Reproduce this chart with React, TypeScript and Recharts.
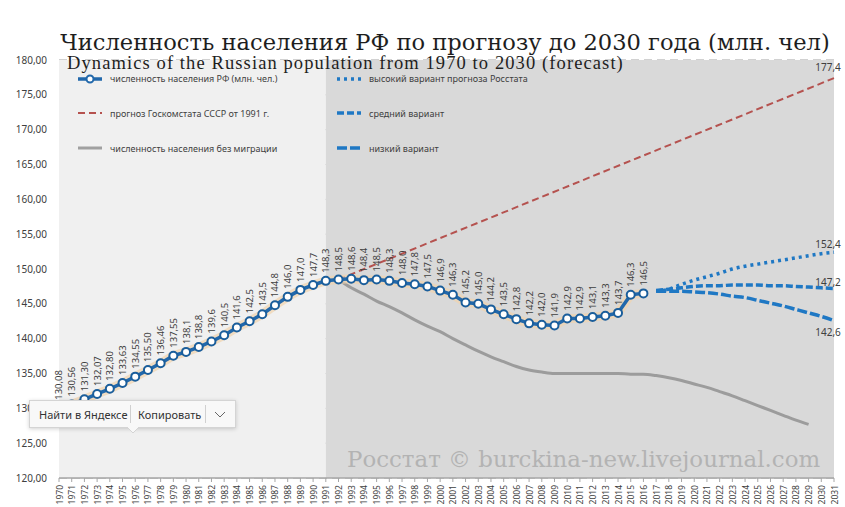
import { CartesianGrid, LabelList, Line, LineChart, ReferenceArea, XAxis, YAxis } from "recharts";

// categories 1970..2031
const years: string[] = Array.from({ length: 62 }, (_, i) => String(1970 + i));

// численность населения РФ (млн. чел.), 1970..2016
const actual = [
  130.08, 130.56, 131.3, 132.07, 132.8, 133.63, 134.55, 135.5, 136.46, 137.55,
  138.1, 138.8, 139.6, 140.5, 141.6, 142.5, 143.5, 144.8, 146.0, 147.0,
  147.7, 148.3, 148.5, 148.6, 148.4, 148.5, 148.3, 148.0, 147.8, 147.5,
  146.9, 146.3, 145.2, 145.0, 144.2, 143.5, 142.8, 142.2, 142.0, 141.9,
  142.9, 142.9, 143.1, 143.3, 143.7, 146.3, 146.5,
];

// прогноз Госкомстата СССР от 1991 г. (start / end)
const ussrYears = ["1992", "2031"];
const ussrForecast = [148.5, 177.4];

// численность населения без миграции, 1992..2030
const noMigration = [
  148.5, 147.3, 146.4, 145.4, 144.6, 143.7, 142.7, 141.8, 141.0, 140.0,
  139.1, 138.2, 137.4, 136.7, 136.0, 135.5, 135.2, 135.0, 135.0, 135.0,
  135.0, 135.0, 135.0, 134.9, 134.9, 134.7, 134.4, 134.0, 133.5, 133.0,
  132.4, 131.8, 131.1, 130.4, 129.7, 129.0, 128.3, 127.7,
];

// Росстат forecast variants, 2017..2031
const highVariant = [146.8, 147.1, 147.8, 148.4, 148.9, 149.4, 150.0, 150.4, 150.7, 151.0, 151.3, 151.6, 151.9, 152.2, 152.4];
const midVariant = [146.9, 147.1, 147.3, 147.5, 147.6, 147.6, 147.7, 147.7, 147.7, 147.6, 147.6, 147.5, 147.4, 147.3, 147.2];
const lowVariant = [146.8, 146.8, 146.8, 146.7, 146.6, 146.4, 146.1, 145.9, 145.5, 145.1, 144.7, 144.2, 143.7, 143.2, 142.6];

const yTicks = [120, 125, 130, 135, 140, 145, 150, 155, 160, 165, 170, 175, 180];

const data = years.map((year, i) => {
  const y = Number(year);
  const ui = ussrYears.indexOf(year);
  return {
    year,
    actual: i < actual.length ? actual[i] : null,
    ussr: ui >= 0 ? ussrForecast[ui] : null,
    noMig: y >= 1992 && y - 1992 < noMigration.length ? noMigration[y - 1992] : null,
    high: y >= 2017 ? highVariant[y - 2017] : null,
    mid: y >= 2017 ? midVariant[y - 2017] : null,
    low: y >= 2017 ? lowVariant[y - 2017] : null,
  };
});

const fmt = (v: number, d: number) => v.toFixed(d).replace(".", ",");

const FONT = "'Noto Sans', sans-serif";
const BLUE = "#2268ab";
const FBLUE = "#1f78c4";

function YearTick({ x, y, payload }: any) {
  const ty = y + 1;
  return (
    <text
      x={x}
      y={ty}
      transform={`rotate(-90 ${x} ${ty})`}
      textAnchor="end"
      dominantBaseline="central"
      fontSize={8.5}
      fill="#404040"
      fontFamily={FONT}
    >
      {payload.value}
    </text>
  );
}

function PointLabel({ x, y, value, index }: any) {
  if (value == null) return null;
  const ty = y - 8;
  return (
    <text
      x={x}
      y={ty}
      transform={`rotate(-90 ${x} ${ty})`}
      textAnchor="start"
      dominantBaseline="central"
      fontSize={9.5}
      fill="#404040"
      fontFamily={FONT}
    >
      {fmt(value, index < 10 ? 2 : 1)}
    </text>
  );
}

const endLabel = (dy: number, last: number) =>
  function EndLabel({ x, y, value, index }: any) {
    if (index !== last || value == null) return null;
    return (
      <text x={x - 6} y={y + dy} textAnchor="middle" dominantBaseline="central" fontSize={10} fill="#404040" fontFamily={FONT}>
        {fmt(value, 1)}
      </text>
    );
  };

function LegendIcon({ kind }: { kind: string }) {
  const common = { x1: 2, x2: 26, y1: 5, y2: 5 };
  let el = null;
  if (kind === "actual")
    el = (
      <>
        <line {...common} stroke={BLUE} strokeWidth={3.5} />
        <circle cx={14} cy={5} r={3.5} fill="#fff" stroke={BLUE} strokeWidth={2} />
      </>
    );
  if (kind === "ussr") el = <line {...common} stroke="#b5524f" strokeWidth={2} strokeDasharray="7 4" />;
  if (kind === "nomig") el = <line {...common} stroke="#a0a0a0" strokeWidth={3} />;
  if (kind === "high") el = <line {...common} stroke={FBLUE} strokeWidth={3.5} strokeDasharray="3 4" />;
  if (kind === "mid") el = <line {...common} stroke={FBLUE} strokeWidth={3.5} strokeDasharray="7 3" />;
  if (kind === "low") el = <line {...common} stroke={FBLUE} strokeWidth={3.5} strokeDasharray="10 3" />;
  return (
    <svg width={28} height={10} style={{ display: "block" }}>
      {el}
    </svg>
  );
}

const legendItems = [
  { kind: "actual", text: "численность населения РФ (млн. чел.)", left: 76, top: 78.5 },
  { kind: "ussr", text: "прогноз Госкомстата СССР от 1991 г.", left: 76, top: 113 },
  { kind: "nomig", text: "численность населения без миграции", left: 76, top: 148 },
  { kind: "high", text: "высокий вариант прогноза Росстата", left: 335, top: 78.5 },
  { kind: "mid", text: "средний вариант", left: 335, top: 113 },
  { kind: "low", text: "низкий вариант", left: 335, top: 148 },
];

export default function App() {
  return (
    <div style={{ position: "absolute", left: 0, top: 0, width: 845, height: 507, background: "#fff", overflow: "hidden" }}>
      <LineChart width={845} height={507} data={data} margin={{ top: 60, right: 11, bottom: 0, left: 0 }}>
        <ReferenceArea x1="1970" x2="1991" fill="#f0f0f0" fillOpacity={1} stroke="none" />
        <ReferenceArea x1="1991" x2="2031" fill="#d9d9d9" fillOpacity={1} stroke="none" />
        <CartesianGrid vertical={false} stroke="#a3a3a3" strokeDasharray="8 5" />
        <XAxis
          dataKey="year"
          interval={0}
          tick={<YearTick />}
          height={29}
          tickSize={4}
          tickLine={{ stroke: "#a6a6a6" }}
          axisLine={{ stroke: "#a6a6a6", strokeWidth: 1.5 }}
        />
        <YAxis
          domain={[120, 180]}
          ticks={yTicks}
          width={59}
          axisLine={false}
          tickLine={false}
          tickMargin={6}
          tickFormatter={(v: number) => fmt(v, 2)}
          tick={{ fontSize: 10, fill: "#404040", fontFamily: FONT }}
        />
        <Line dataKey="ussr" stroke="#b5524f" strokeWidth={2} strokeDasharray="7 4" dot={false} connectNulls isAnimationActive={false}>
          <LabelList dataKey="ussr" content={endLabel(-11, 61)} />
        </Line>
        <Line dataKey="noMig" stroke="#9c9c9c" strokeWidth={3} dot={false} type="monotone" isAnimationActive={false} />
        <Line dataKey="high" stroke={FBLUE} strokeWidth={3.5} strokeDasharray="3 4" dot={false} type="monotone" isAnimationActive={false}>
          <LabelList dataKey="high" content={endLabel(-8, 61)} />
        </Line>
        <Line dataKey="mid" stroke={FBLUE} strokeWidth={3.5} strokeDasharray="7 3" dot={false} type="monotone" isAnimationActive={false}>
          <LabelList dataKey="mid" content={endLabel(-7, 61)} />
        </Line>
        <Line dataKey="low" stroke={FBLUE} strokeWidth={3.5} strokeDasharray="10 3" dot={false} type="monotone" isAnimationActive={false}>
          <LabelList dataKey="low" content={endLabel(11, 61)} />
        </Line>
        <Line dataKey="actual" stroke="#f1d3ad" strokeOpacity={0.7} strokeWidth={9} dot={false} isAnimationActive={false} />
        <Line
          dataKey="actual"
          stroke={BLUE}
          strokeWidth={3.5}
          dot={{ r: 4, fill: "#fff", stroke: "#1a5e9c", strokeWidth: 2 }}
          isAnimationActive={false}
        >
          <LabelList dataKey="actual" content={<PointLabel />} />
        </Line>
      </LineChart>

      {legendItems.map((it) => (
        <div
          key={it.kind}
          style={{
            position: "absolute",
            left: it.left,
            top: it.top - 5.5,
            display: "flex",
            alignItems: "center",
            gap: 6,
            fontFamily: FONT,
            fontSize: 9,
            lineHeight: "11px",
            color: "#404040",
            whiteSpace: "nowrap",
          }}
        >
          <LegendIcon kind={it.kind} />
          <span>{it.text}</span>
        </div>
      ))}

      <div
        style={{
          position: "absolute",
          left: 0,
          width: 890,
          top: 31,
          textAlign: "center",
          fontFamily: "'DejaVu Serif', serif",
          fontSize: 22.6,
          lineHeight: 1,
          color: "#1e1e1e",
          whiteSpace: "nowrap",
        }}
      >
        Численность населения РФ по прогнозу до 2030 года (млн. чел)
      </div>
      <div
        style={{
          position: "absolute",
          left: 67,
          top: 54,
          fontFamily: "'Liberation Serif', serif",
          fontSize: 18.5,
          letterSpacing: 1.1,
          lineHeight: 1,
          color: "#1e1e1e",
          whiteSpace: "nowrap",
        }}
      >
        Dynamics of the Russian population from 1970 to 2030 (forecast)
      </div>
      <div
        style={{
          position: "absolute",
          left: 347,
          top: 448,
          fontFamily: "'DejaVu Serif', serif",
          fontSize: 22.9,
          lineHeight: 1,
          color: "#b3b3b3",
          whiteSpace: "nowrap",
        }}
      >
        Росстат © burckina-new.livejournal.com
      </div>

      <div
        style={{
          position: "absolute",
          left: 29,
          top: 400,
          width: 205,
          height: 26,
          background: "#f8f8f8",
          border: "1px solid #d4d4d4",
          boxShadow: "0 1px 4px rgba(0,0,0,0.18)",
          fontFamily: FONT,
          fontSize: 11,
          color: "#333",
          display: "flex",
          alignItems: "center",
        }}
      >
        <span style={{ paddingLeft: 9, width: 94 }}>Найти в Яндексе</span>
        <span style={{ width: 1, height: 18, background: "#d0d0d0" }} />
        <span style={{ paddingLeft: 7, width: 69 }}>Копировать</span>
        <span style={{ width: 1, height: 18, background: "#d0d0d0" }} />
        <svg width={30} height={12} style={{ display: "block" }}>
          <polyline points="9,4 14,9 19,4" fill="none" stroke="#666" strokeWidth={1} />
        </svg>
        <svg
          width={12}
          height={7}
          style={{ position: "absolute", left: 97, top: 26, display: "block" }}
        >
          <polygon points="0,0 12,0 6,6" fill="#f8f8f8" />
          <polyline points="0,0 6,6 12,0" fill="none" stroke="#d4d4d4" strokeWidth={1} />
        </svg>
      </div>
    </div>
  );
}
